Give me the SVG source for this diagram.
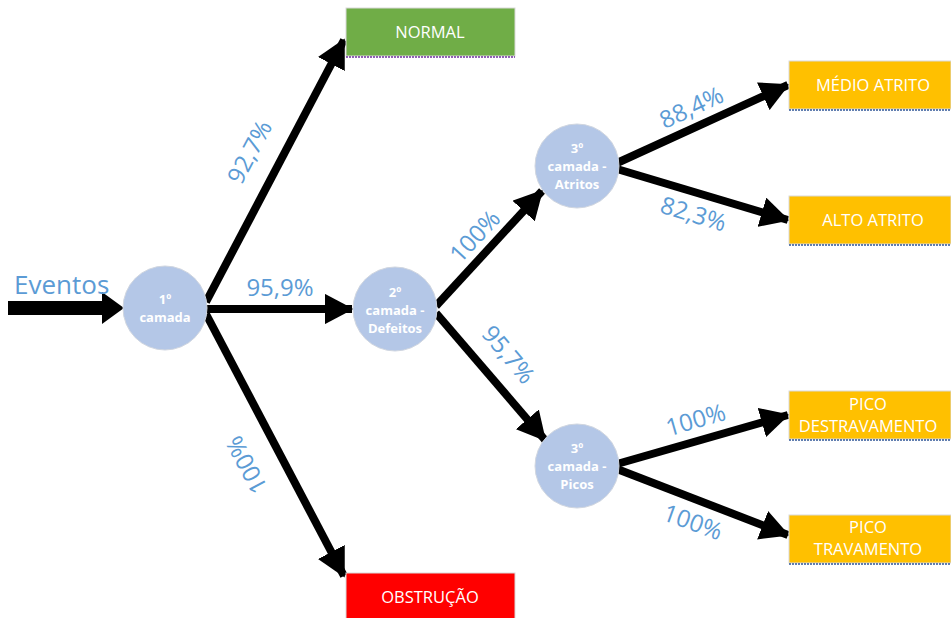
<svg xmlns="http://www.w3.org/2000/svg" width="951" height="618" viewBox="0 0 951 618">
<style>
.c{fill:#B4C7E7;stroke:#D0D6E0;stroke-width:1}
.ct{fill:#fff;font-family:"Open Sans","Liberation Sans",sans-serif;font-weight:bold;font-size:13px;text-anchor:middle}
.bx{stroke:#D9D9D9;stroke-width:1}
.bt{fill:#fff;font-family:"Open Sans","Liberation Sans",sans-serif;font-size:16.5px;text-anchor:middle}
.lb{fill:#5B9BD5;font-family:"Open Sans","Liberation Sans",sans-serif;font-size:24px;text-anchor:middle}
.ar{stroke:#000;stroke-width:8;fill:none;marker-end:url(#ah)}
</style>
<defs>
<marker id="ah" markerWidth="3.6" markerHeight="3.8" refX="3.4" refY="1.9" orient="auto" markerUnits="strokeWidth">
<path d="M0,0 L3.6,1.9 L0,3.8 Z" fill="#000"/>
</marker>
</defs>
<g id="connectors">
<line x1="8" y1="308" x2="104" y2="308" stroke="#000" stroke-width="14"/>
<polygon points="102,292 124,308 102,324" fill="#000"/>
<line class="ar" x1="206" y1="302" x2="344" y2="40"/>
<line class="ar" x1="206" y1="309" x2="352" y2="309"/>
<line class="ar" x1="206" y1="314" x2="344" y2="576"/>
<line class="ar" x1="436" y1="306" x2="542" y2="191"/>
<line class="ar" x1="436" y1="313" x2="545" y2="440"/>
<line class="ar" x1="617" y1="163" x2="788" y2="85"/>
<line class="ar" x1="617" y1="169" x2="788" y2="220"/>
<line class="ar" x1="617" y1="464" x2="788" y2="415"/>
<line class="ar" x1="617" y1="469" x2="788" y2="535"/>
</g>
<g id="labels">
<text class="lb" x="14" y="294" style="font-size:26px;text-anchor:start">Eventos</text>
<text class="lb" transform="translate(257,156) rotate(-62)">92,7%</text>
<text class="lb" x="280" y="296">95,9%</text>
<text class="lb" transform="translate(254,461) rotate(-118)">100%</text>
<text class="lb" transform="translate(481,242) rotate(-47)">100%</text>
<text class="lb" transform="translate(502,360) rotate(50)">95,7%</text>
<text class="lb" transform="translate(695,115) rotate(-25)">88,4%</text>
<text class="lb" transform="translate(691,222) rotate(17)">82,3%</text>
<text class="lb" transform="translate(698,428) rotate(-16)">100%</text>
<text class="lb" transform="translate(690,530) rotate(20)">100%</text>
</g>
<g id="n1"><circle class="c" cx="165" cy="308" r="42"/><text class="ct" x="165" y="304">1º</text><text class="ct" x="165" y="322">camada</text></g>
<g id="n2"><circle class="c" cx="395" cy="309" r="42"/><text class="ct" x="395" y="297">2º</text><text class="ct" x="395" y="315">camada -</text><text class="ct" x="395" y="333">Defeitos</text></g>
<g id="n3a"><circle class="c" cx="577" cy="166" r="42"/><text class="ct" x="577" y="153">3º</text><text class="ct" x="577" y="171">camada -</text><text class="ct" x="577" y="189">Atritos</text></g>
<g id="n3b"><circle class="c" cx="577" cy="466" r="42"/><text class="ct" x="577" y="453">3º</text><text class="ct" x="577" y="471">camada -</text><text class="ct" x="577" y="489">Picos</text></g>
<g id="normal"><rect class="bx" x="346" y="8" width="169" height="48" fill="#70AD47"/><line x1="346" y1="57" x2="515" y2="57" stroke="#7030A0" stroke-width="1.5" stroke-dasharray="2,1"/><text class="bt" x="430" y="38">NORMAL</text></g>
<g id="obstrucao"><rect class="bx" x="346" y="573" width="169" height="46" fill="#FF0000"/><text class="bt" x="430" y="603">OBSTRUÇÃO</text></g>
<g id="medio"><rect class="bx" x="789" y="61" width="162" height="48" fill="#FFC000"/><line x1="789" y1="110" x2="951" y2="110" stroke="#2F5597" stroke-width="1.5" stroke-dasharray="2,1"/><text class="bt" x="873" y="91">MÉDIO ATRITO</text></g>
<g id="alto"><rect class="bx" x="789" y="196" width="162" height="48" fill="#FFC000"/><line x1="789" y1="245" x2="951" y2="245" stroke="#2F5597" stroke-width="1.5" stroke-dasharray="2,1"/><text class="bt" x="873" y="226">ALTO ATRITO</text></g>
<g id="destrav"><rect class="bx" x="789" y="391" width="162" height="48" fill="#FFC000"/><line x1="789" y1="440" x2="951" y2="440" stroke="#2F5597" stroke-width="1.5" stroke-dasharray="2,1"/><text class="bt" x="868" y="410">PICO</text><text class="bt" x="868" y="432">DESTRAVAMENTO</text></g>
<g id="trav"><rect class="bx" x="789" y="515" width="162" height="48" fill="#FFC000"/><line x1="789" y1="564" x2="951" y2="564" stroke="#2F5597" stroke-width="1.5" stroke-dasharray="2,1"/><text class="bt" x="868" y="533">PICO</text><text class="bt" x="868" y="555">TRAVAMENTO</text></g>
</svg>
